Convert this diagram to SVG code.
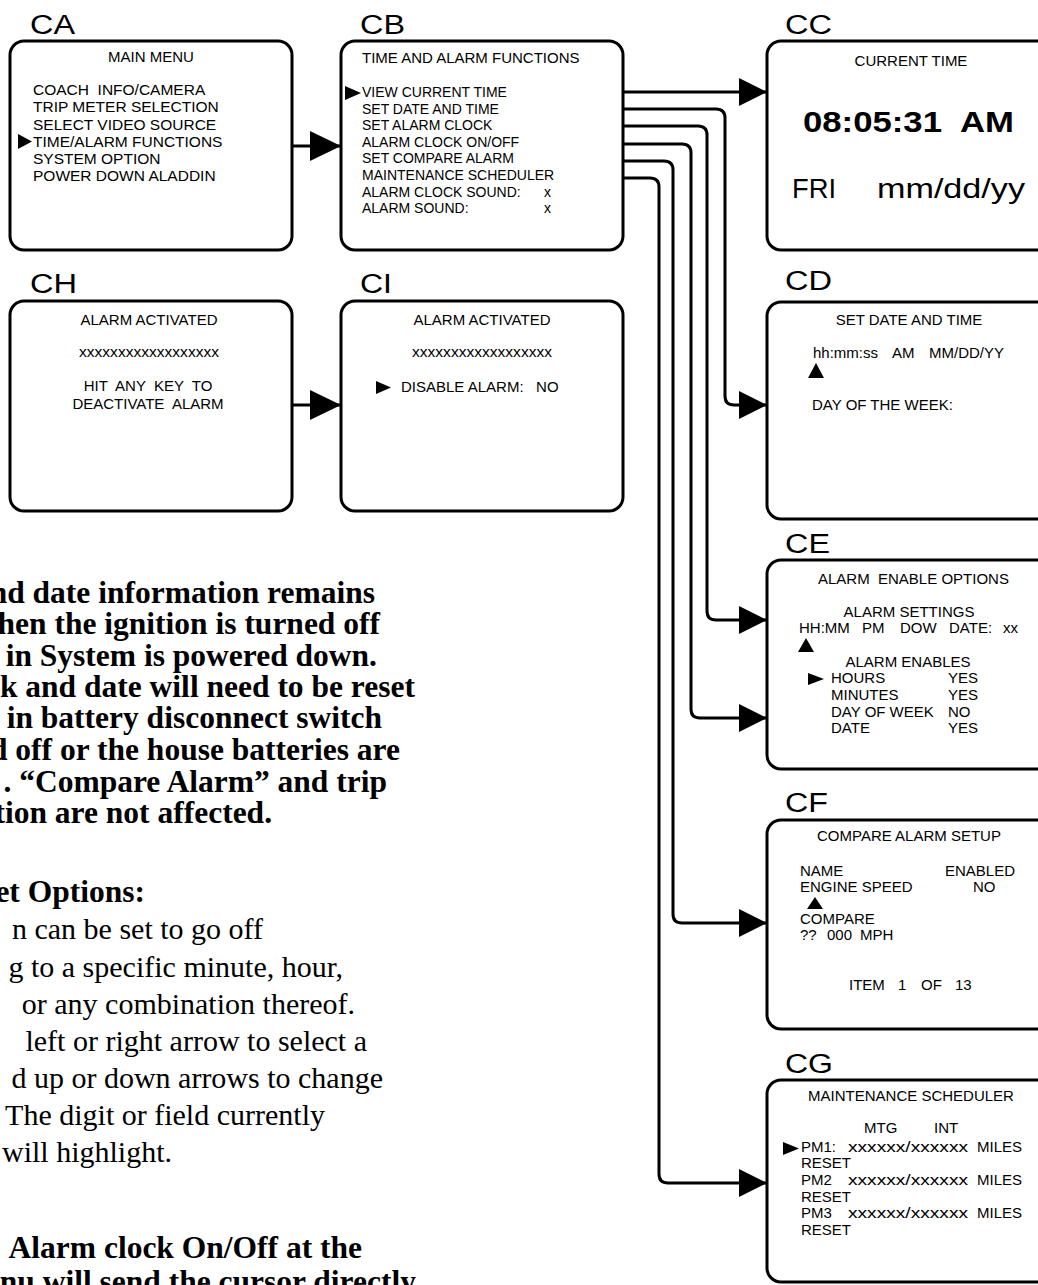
<svg xmlns="http://www.w3.org/2000/svg" width="1038" height="1285" viewBox="0 0 1038 1285">
<defs>
<style>
text{white-space:pre}
.box{fill:#fff;stroke:#000;stroke-width:3}
.lbl{font-family:"Liberation Sans",Arial,sans-serif;font-size:27px;fill:#000}
.t{font-family:"Liberation Sans",Arial,sans-serif;font-size:15px;fill:#000}
.s{font-size:14px}
.m{font-size:15.5px}
.c{text-anchor:middle}
.conn{fill:none;stroke:#000;stroke-width:3}
.ptr{fill:#000}
.bold{font-family:"Liberation Serif","Times New Roman",serif;font-weight:bold;font-size:31.5px;text-anchor:end;fill:#000}
.reg{font-family:"Liberation Serif","Times New Roman",serif;font-size:30px;text-anchor:end;fill:#000}
</style>
<marker id="ah" markerUnits="userSpaceOnUse" markerWidth="30" markerHeight="30" refX="28" refY="14" orient="auto"><path d="M0,0 L28,14 L0,28 z" fill="#000"/></marker>
<marker id="ahb" markerUnits="userSpaceOnUse" markerWidth="32" markerHeight="32" refX="31" refY="15" orient="auto"><path d="M0,0 L31,15 L0,30 z" fill="#000"/></marker>
</defs>
<rect width="1038" height="1285" fill="#fff"/>

<g id="CA">
<text class="lbl" x="30" y="34" textLength="45" lengthAdjust="spacingAndGlyphs">CA</text>
<rect class="box" x="10" y="41" width="282" height="209" rx="14"/>
<text class="t c" x="151" y="62">MAIN MENU</text>
<text class="t m" x="33" y="95">COACH  INFO/CAMERA</text>
<text class="t m" x="33" y="112">TRIP METER SELECTION</text>
<text class="t m" x="33" y="130">SELECT VIDEO SOURCE</text>
<text class="t m" x="33" y="147">TIME/ALARM FUNCTIONS</text>
<text class="t m" x="33" y="164">SYSTEM OPTION</text>
<text class="t m" x="33" y="181">POWER DOWN ALADDIN</text>
<polygon class="ptr" points="18,134 32,141.5 18,149"/>
</g>

<g id="CB">
<text class="lbl" x="360" y="34" textLength="45" lengthAdjust="spacingAndGlyphs">CB</text>
<rect class="box" x="341" y="41" width="282" height="209" rx="14"/>
<text class="t" x="362" y="63">TIME AND ALARM FUNCTIONS</text>
<text class="t s" x="362" y="97">VIEW CURRENT TIME</text>
<text class="t s" x="362" y="113.6">SET DATE AND TIME</text>
<text class="t s" x="362" y="130.2">SET ALARM CLOCK</text>
<text class="t s" x="362" y="146.8">ALARM CLOCK ON/OFF</text>
<text class="t s" x="362" y="163.4">SET COMPARE ALARM</text>
<text class="t s" x="362" y="180">MAINTENANCE SCHEDULER</text>
<text class="t s" x="362" y="196.6">ALARM CLOCK SOUND:</text>
<text class="t s" x="544" y="196.6">x</text>
<text class="t s" x="362" y="213.2">ALARM SOUND:</text>
<text class="t s" x="544" y="213.2">x</text>
<polygon class="ptr" points="345,86 361,93 345,100"/>
</g>

<g id="CC">
<text class="lbl" x="785" y="34" textLength="47" lengthAdjust="spacingAndGlyphs">CC</text>
<rect class="box" x="767" y="41" width="300" height="209" rx="14"/>
<text class="t c" x="911" y="66">CURRENT TIME</text>
<text x="803" y="132" textLength="211" lengthAdjust="spacingAndGlyphs" style="font-family:'Liberation Sans',Arial,sans-serif;font-weight:bold;font-size:30px">08:05:31  AM</text>
<text x="792" y="198" textLength="44" lengthAdjust="spacingAndGlyphs" style="font-family:'Liberation Sans',Arial,sans-serif;font-size:27px">FRI</text>
<text x="877" y="198" textLength="148" lengthAdjust="spacingAndGlyphs" style="font-family:'Liberation Sans',Arial,sans-serif;font-size:27px">mm/dd/yy</text>
</g>

<g id="CD">
<text class="lbl" x="785" y="290" textLength="47" lengthAdjust="spacingAndGlyphs">CD</text>
<rect class="box" x="767" y="302" width="300" height="217" rx="14"/>
<text class="t c" x="909" y="325">SET DATE AND TIME</text>
<text class="t" y="358"><tspan x="813">hh:mm:ss</tspan><tspan x="892">AM</tspan><tspan x="929">MM/DD/YY</tspan></text>
<polygon class="ptr" points="808,378 816,363 824,378"/>
<text class="t" x="812" y="410">DAY OF THE WEEK:</text>
</g>

<g id="CE">
<text class="lbl" x="785" y="553" textLength="45" lengthAdjust="spacingAndGlyphs">CE</text>
<rect class="box" x="767" y="560" width="300" height="209" rx="14"/>
<text class="t" x="818" y="584">ALARM  ENABLE OPTIONS</text>
<text class="t c" x="909" y="617">ALARM SETTINGS</text>
<text class="t" y="633"><tspan x="799">HH:MM</tspan><tspan x="862">PM</tspan><tspan x="900">DOW</tspan><tspan x="949">DATE:</tspan><tspan x="1003">xx</tspan></text>
<polygon class="ptr" points="798,652 806,638 814,652"/>
<text class="t c" x="908" y="667">ALARM ENABLES</text>
<polygon class="ptr" points="808,673 824,679 808,685"/>
<text class="t" x="831" y="683">HOURS</text><text class="t" x="948" y="683">YES</text>
<text class="t" x="831" y="700">MINUTES</text><text class="t" x="948" y="700">YES</text>
<text class="t" x="831" y="717">DAY OF WEEK</text><text class="t" x="948" y="717">NO</text>
<text class="t" x="831" y="733">DATE</text><text class="t" x="948" y="733">YES</text>
</g>

<g id="CF">
<text class="lbl" x="785" y="812" textLength="43" lengthAdjust="spacingAndGlyphs">CF</text>
<rect class="box" x="767" y="820" width="300" height="209" rx="14"/>
<text class="t c" x="909" y="841">COMPARE ALARM SETUP</text>
<text class="t" x="800" y="876">NAME</text><text class="t" x="945" y="876">ENABLED</text>
<text class="t" x="800" y="892">ENGINE SPEED</text><text class="t" x="973" y="892">NO</text>
<polygon class="ptr" points="807,909 815,897 823,909"/>
<text class="t" x="800" y="924">COMPARE</text>
<text class="t" y="940"><tspan x="800">??</tspan><tspan x="827">000</tspan><tspan x="860">MPH</tspan></text>
<text class="t" y="990"><tspan x="849">ITEM</tspan><tspan x="898">1</tspan><tspan x="921">OF</tspan><tspan x="955">13</tspan></text>
</g>

<g id="CG">
<text class="lbl" x="785" y="1073" textLength="48" lengthAdjust="spacingAndGlyphs">CG</text>
<rect class="box" x="767" y="1080" width="300" height="202" rx="14"/>
<text class="t c" x="911" y="1101">MAINTENANCE SCHEDULER</text>
<text class="t" x="864" y="1133">MTG</text><text class="t" x="934" y="1133">INT</text>
<polygon class="ptr" points="783,1142 799,1148.5 783,1155"/>
<text class="t" x="801" y="1152">PM1:</text><text class="t" x="848" y="1152" textLength="120" lengthAdjust="spacingAndGlyphs">xxxxxx/xxxxxx</text><text class="t" x="977" y="1152">MILES</text>
<text class="t" x="801" y="1168">RESET</text>
<text class="t" x="801" y="1185">PM2</text><text class="t" x="848" y="1185" textLength="120" lengthAdjust="spacingAndGlyphs">xxxxxx/xxxxxx</text><text class="t" x="977" y="1185">MILES</text>
<text class="t" x="801" y="1202">RESET</text>
<text class="t" x="801" y="1218">PM3</text><text class="t" x="848" y="1218" textLength="120" lengthAdjust="spacingAndGlyphs">xxxxxx/xxxxxx</text><text class="t" x="977" y="1218">MILES</text>
<text class="t" x="801" y="1235">RESET</text>
</g>

<g id="CH">
<text class="lbl" x="30" y="293" textLength="47" lengthAdjust="spacingAndGlyphs">CH</text>
<rect class="box" x="10" y="301" width="282" height="210" rx="14"/>
<text class="t c" x="149" y="325">ALARM ACTIVATED</text>
<text class="t" x="79" y="357" textLength="140" lengthAdjust="spacingAndGlyphs">xxxxxxxxxxxxxxxxxx</text>
<text class="t c" x="148" y="391">HIT  ANY  KEY  TO</text>
<text class="t c" x="148" y="409">DEACTIVATE  ALARM</text>
</g>

<g id="CI">
<text class="lbl" x="360" y="293" textLength="32" lengthAdjust="spacingAndGlyphs">CI</text>
<rect class="box" x="341" y="301" width="282" height="210" rx="14"/>
<text class="t c" x="482" y="325">ALARM ACTIVATED</text>
<text class="t" x="412" y="357" textLength="140" lengthAdjust="spacingAndGlyphs">xxxxxxxxxxxxxxxxxx</text>
<polygon class="ptr" points="376,381 391,387.5 376,394"/>
<text class="t" x="401" y="392">DISABLE ALARM:   NO</text>
</g>

<g id="connectors">
<path class="conn" marker-end="url(#ahb)" d="M292,146 H341"/>
<path class="conn" marker-end="url(#ahb)" d="M292,405 H341"/>
<path class="conn" marker-end="url(#ah)" d="M623,92 H767"/>
<path class="conn" marker-end="url(#ah)" d="M623,109 H716 Q725,109 725,118 V396 Q725,405 734,405 H767"/>
<path class="conn" marker-end="url(#ah)" d="M623,126 H698 Q707,126 707,135 V611 Q707,620 716,620 H767"/>
<path class="conn" marker-end="url(#ah)" d="M623,144 H682 Q691,144 691,153 V709 Q691,718 700,718 H767"/>
<path class="conn" marker-end="url(#ah)" d="M623,161 H664 Q673,161 673,170 V914 Q673,923 682,923 H767"/>
<path class="conn" marker-end="url(#ah)" d="M623,178 H650 Q659,178 659,187 V1174 Q659,1183 668,1183 H767"/>
</g>

<g id="notes">
<text class="bold" x="375" y="603">nd date information remains</text>
<text class="bold" x="380" y="634">hen the ignition is turned off</text>
<text class="bold" x="377" y="666">in System is powered down.</text>
<text class="bold" x="415" y="697">k and date will need to be reset</text>
<text class="bold" x="382" y="728">in battery disconnect switch</text>
<text class="bold" x="400" y="760">d off or the house batteries are</text>
<text class="bold" x="387" y="792">. “Compare Alarm” and trip</text>
<text class="bold" x="272" y="823">tion are not affected.</text>
<text class="bold" x="145" y="902">et Options:</text>
<text class="reg" x="263" y="939">n can be set to go off</text>
<text class="reg" x="343" y="977">g to a specific minute, hour,</text>
<text class="reg" x="355" y="1014">or any combination thereof.</text>
<text class="reg" x="367" y="1051">left or right arrow to select a</text>
<text class="reg" x="383" y="1088">d up or down arrows to change</text>
<text class="reg" x="325" y="1125">The digit or field currently</text>
<text class="reg" x="172" y="1162">will highlight.</text>
<text class="bold" x="362" y="1258">Alarm clock On/Off at the</text>
<text class="bold" x="416" y="1292">nu will send the cursor directly</text>
</g>
</svg>
